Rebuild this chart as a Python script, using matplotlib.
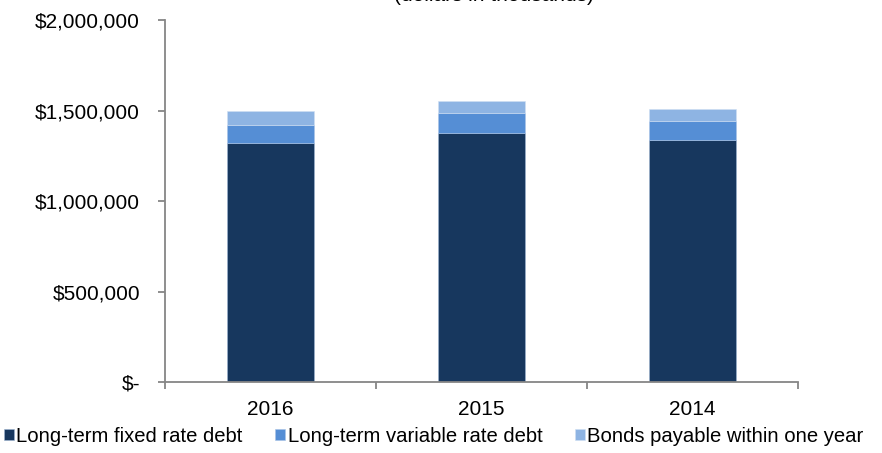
import matplotlib
matplotlib.use('Agg')
from matplotlib import pyplot as plt

years = ['2016', '2015', '2014']
fixed_rate = [1320000, 1376000, 1340000]
variable_rate = [101000, 112000, 101000]
bonds_one_year = [77000, 66000, 70000]

labels = ['Long-term fixed rate debt', 'Long-term variable rate debt', 'Bonds payable within one year']
colors = ['#17375E', '#558ED5', '#8EB4E3']

plt.rcParams['font.family'] = ['Liberation Sans', 'DejaVu Sans']

fig = plt.figure(figsize=(8.82, 4.53), dpi=100)
ax = fig.add_axes([0.187, 0.157, 0.718, 0.798])

x = list(range(len(years)))
bottom2 = [a + b for a, b in zip(fixed_rate, variable_rate)]
ax.bar(x, fixed_rate, width=0.41, color=colors[0], edgecolor='#9fb6d2', linewidth=0.4, label=labels[0])
ax.bar(x, variable_rate, width=0.41, bottom=fixed_rate, color=colors[1], edgecolor='#a9c4e6', linewidth=0.4, label=labels[1])
ax.bar(x, bonds_one_year, width=0.41, bottom=bottom2, color=colors[2], edgecolor='#d0e0f3', linewidth=0.4, label=labels[2])

ax.set_xlim(-0.5, 2.5)
ax.set_ylim(0, 2000000)
ax.set_yticks([0, 500000, 1000000, 1500000, 2000000])
ax.set_yticklabels(['$-', '$500,000', '$1,000,000', '$1,500,000', '$2,000,000'])
ax.set_xticks(x)
ax.set_xticklabels(years)
ax.set_xticks([-0.5, 0.5, 1.5, 2.5], minor=True)

for s in ['top', 'right']:
    ax.spines[s].set_visible(False)
for s in ['left', 'bottom']:
    ax.spines[s].set_color('#868686')
    ax.spines[s].set_linewidth(1.3)

ax.tick_params(axis='x', which='major', length=0, pad=13, labelsize=15)
ax.tick_params(axis='x', which='minor', length=5, width=1.3, color='#868686')
ax.tick_params(axis='y', length=5, width=1.3, color='#868686', pad=13, labelsize=15)

# title is cut off at the top edge in the original
fig.text(0.56, 1 - 1 / 453, '(dollars in thousands)', ha='center', va='baseline', fontsize=15)

fig.legend(loc='lower left', bbox_to_anchor=(-0.004, 0.0), ncol=3, frameon=False,
           fontsize=14.6, handlelength=0.5, handleheight=0.5, handletextpad=0.12,
           columnspacing=1.6, borderaxespad=0.05, borderpad=0.3)

plt.savefig('out.png', dpi=100)
